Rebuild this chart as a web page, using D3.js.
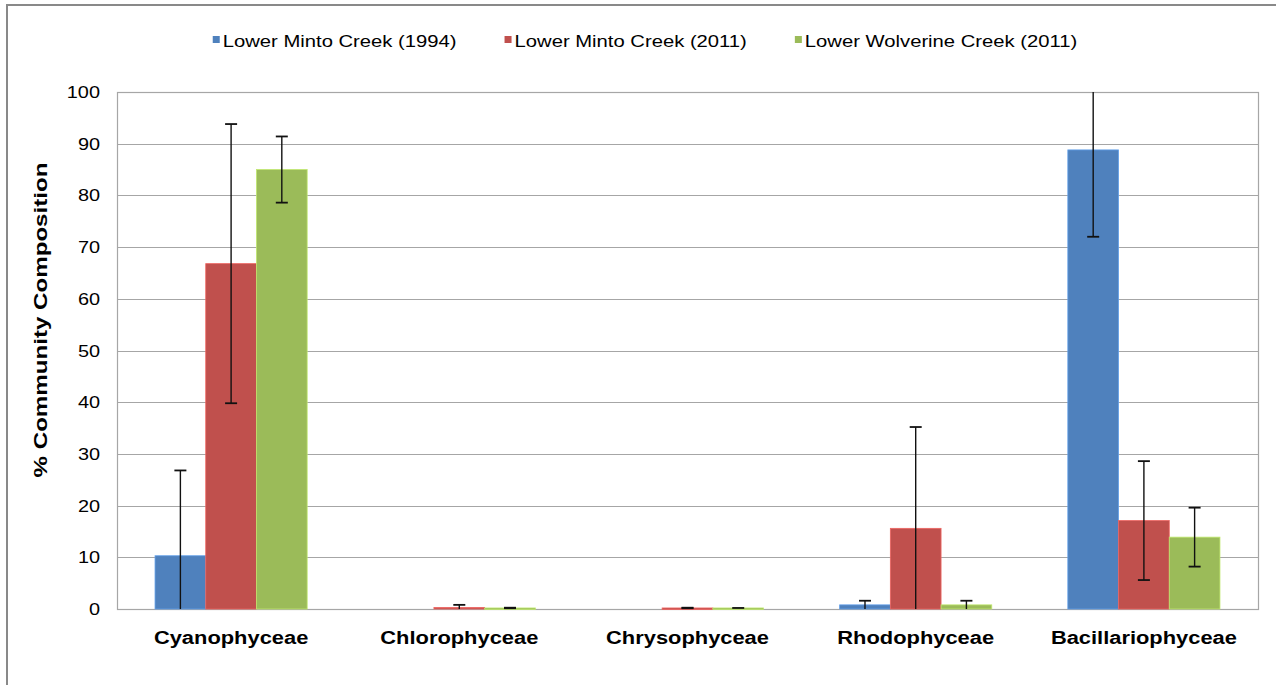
<!DOCTYPE html>
<html>
<head>
<meta charset="utf-8">
<script src="https://cdn.jsdelivr.net/npm/d3@7"></script>
<style>
  html, body { margin: 0; padding: 0; background: #fff; }
  svg { display: block; }
  text { font-family: "Liberation Sans", Arial, sans-serif; fill: #000; }
</style>
</head>
<body>
<svg id="chart" width="1276" height="685"></svg>
<script>
// Algal class composition by site
const categories = ["Cyanophyceae", "Chlorophyceae", "Chrysophyceae", "Rhodophyceae", "Bacillariophyceae"];
const seriesNames = ["Lower Minto Creek (1994)", "Lower Minto Creek (2011)", "Lower Wolverine Creek (2011)"];
const seriesColors = ["#4F81BD", "#C0504D", "#9BBB59"];

// Mean % community composition per series, in category order
const minto1994 = [10.3, 0, 0, 0.8, 88.8];
const minto2011 = [66.8, 0.3, 0.2, 15.6, 17.1];
const wolverine2011 = [85.0, 0.2, 0.2, 0.8, 13.9];

// Error bar half-widths (±) per series
const minto1994Err = [16.5, 0, 0, 0.8, 16.8];
const minto2011Err = [27.0, 0.5, 0.05, 19.6, 11.5];
const wolverine2011Err = [6.4, 0.05, 0, 0.8, 5.7];

const yTicks = [0, 10, 20, 30, 40, 50, 60, 70, 80, 90, 100];
const yTitle = "% Community Composition";

const values = [minto1994, minto2011, wolverine2011];
const errors = [minto1994Err, minto2011Err, wolverine2011Err];

const svg = d3.select("#chart");
const W = 1276, H = 685;
const plot = { left: 117, right: 1258, top: 92, bottom: 609 };
const stretch = 1.17; // horizontal glyph widening used by all labels

// Outer chart frame (only top and left edges fall inside the view)
svg.append("rect")
  .attr("x", 7).attr("y", 5)
  .attr("width", W + 20).attr("height", H + 20)
  .attr("fill", "#fff").attr("stroke", "#898989").attr("stroke-width", 2);

const x0 = d3.scaleBand().domain(categories).range([plot.left, plot.right]).paddingInner(0).paddingOuter(0);
const bw = x0.bandwidth() / 4.5;
const x1 = d3.scaleBand().domain(d3.range(seriesNames.length))
  .range([0.75 * bw, 3.75 * bw]);
const y = d3.scaleLinear().domain([0, 100]).range([plot.bottom, plot.top]);

// Horizontal grid lines
svg.append("g").selectAll("line").data(yTicks).join("line")
  .attr("x1", plot.left).attr("x2", plot.right)
  .attr("y1", d => Math.round(y(d)) + 0.5).attr("y2", d => Math.round(y(d)) + 0.5)
  .attr("stroke", "#a6a6a6").attr("stroke-width", 1.2);

// Plot area border
svg.append("rect")
  .attr("x", plot.left + 0.5).attr("y", plot.top + 0.5)
  .attr("width", plot.right - plot.left).attr("height", plot.bottom - plot.top)
  .attr("fill", "none").attr("stroke", "#a6a6a6").attr("stroke-width", 1.2);

// Helper to place horizontally widened text
function wideText(g, str, tx, ty, anchor, opts = {}) {
  const t = g.append("g").attr("transform", `translate(${tx},${ty}) scale(${opts.stretch || stretch},1)`)
    .append("text").text(str).attr("text-anchor", anchor);
  if (opts.size) t.style("font-size", opts.size + "px");
  if (opts.weight) t.style("font-weight", opts.weight);
  return t;
}

// Y axis tick labels
const yAxisG = svg.append("g");
yTicks.forEach(v => wideText(yAxisG, String(v), 100, y(v) + 6, "end", { size: 17 }));

// Y axis title (widened along its reading direction)
svg.append("g")
  .attr("transform", `translate(47,320) rotate(-90) scale(1.27,1)`)
  .append("text").text(yTitle)
  .attr("text-anchor", "middle")
  .style("font-size", "19px").style("font-weight", "bold");

// Bars
const groups = svg.append("g").selectAll("g").data(categories).join("g")
  .attr("transform", d => `translate(${x0(d)},0)`);

groups.each(function (cat, ci) {
  const g = d3.select(this);
  values.forEach((vals, si) => {
    const v = vals[ci];
    const bx = x1(si);
    if (v > 0) {
      g.append("rect")
        .attr("x", bx).attr("width", x1.bandwidth())
        .attr("y", y(v)).attr("height", Math.max(y(0) - y(v), 1.5))
        .attr("fill", seriesColors[si])
        .attr("stroke", d3.color(seriesColors[si]).brighter(0.6))
        .attr("stroke-width", 0.8);
    }
  });
});

// Error bars, clipped to the 0–100 axis range
groups.each(function (cat, ci) {
  const g = d3.select(this);
  values.forEach((vals, si) => {
    const v = vals[ci], e = errors[si][ci];
    if (v <= 0) return;
    const cx = x1(si) + x1.bandwidth() / 2;
    const hi = v + e, lo = v - e;
    const hiC = Math.min(hi, 100), loC = Math.max(lo, 0);
    const eb = g.append("g").attr("stroke", "#111").attr("stroke-width", 1.4);
    if (e > 0) {
      eb.append("line").attr("x1", cx).attr("x2", cx).attr("y1", y(hiC)).attr("y2", y(loC));
    }
    if (hi <= 100) eb.append("line").attr("x1", cx - 6).attr("x2", cx + 6).attr("y1", y(hi)).attr("y2", y(hi)).attr("stroke-width", 1.8);
    if (lo > 0.05 && e > 0) eb.append("line").attr("x1", cx - 6).attr("x2", cx + 6).attr("y1", y(lo)).attr("y2", y(lo)).attr("stroke-width", 1.8);
  });
});

// Category axis labels
const xAxisG = svg.append("g");
categories.forEach(c => wideText(xAxisG, c, x0(c) + x0.bandwidth() / 2, 644, "middle", { size: 18.7, weight: "bold" }));

// Legend, centred above the plot
const legend = svg.append("g");
const legendItems = seriesNames.map((name, i) => {
  const g = legend.append("g");
  g.append("rect").attr("x", 0).attr("y", -11).attr("width", 7).attr("height", 7).attr("fill", seriesColors[i]);
  const t = wideText(g, name, 10, 0, "start", { size: 17.3 });
  const w = 10 + t.node().getComputedTextLength() * stretch;
  return { g, w };
});
const legendGap = 48;
const totalW = d3.sum(legendItems, d => d.w) + legendGap * (legendItems.length - 1);
let lx = 645 - totalW / 2;
legendItems.forEach(it => {
  it.g.attr("transform", `translate(${lx},47)`);
  lx += it.w + legendGap;
});
</script>
</body>
</html>
